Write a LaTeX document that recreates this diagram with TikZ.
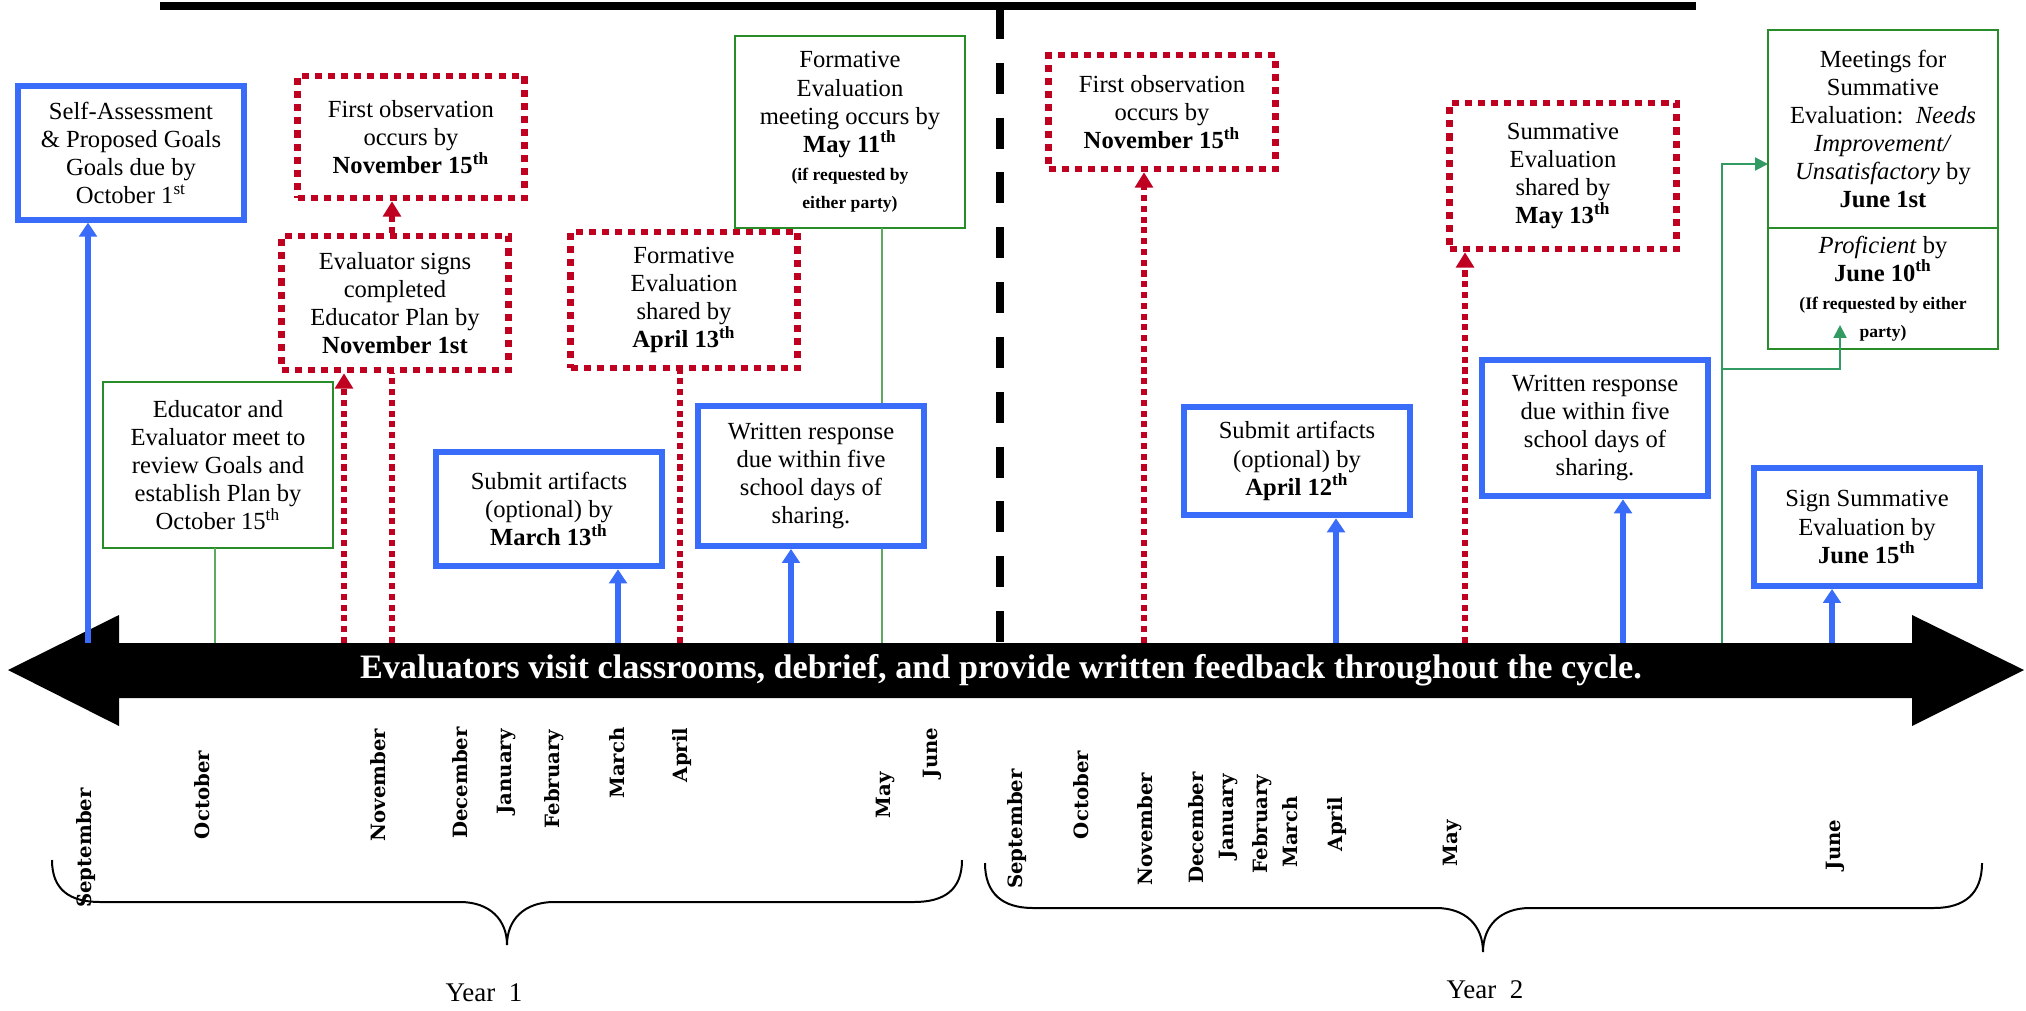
\documentclass[tikz,border=0pt]{standalone}
\usepackage{fontspec}
\setmainfont{Liberation Serif}
\newfontfamily\monthfont{DejaVu Serif}
\usetikzlibrary{arrows.meta}
\usetikzlibrary{positioning}

\definecolor{planblue}{RGB}{58,108,250}
\definecolor{planred}{RGB}{192,0,32}
\definecolor{plangreen}{RGB}{40,140,40}
\definecolor{meetgreen}{RGB}{50,155,100}

\newcommand{\reqnote}[1]{{\fontsize{7.5}{8.5}\selectfont\bfseries #1}}

\tikzstyle{bluebox} = [rectangle, minimum width=34mm, text centered, align=center, draw=planblue, line width=2.5pt, fill=white, font=\fontsize{10.5}{12}\selectfont]
\tikzstyle{redbox} = [rectangle, minimum width=34mm, text centered, align=center, draw=planred, line width=2.8pt, dash pattern=on 3pt off 2.6pt, fill=white, font=\fontsize{10.5}{12}\selectfont]
\tikzstyle{greenbox} = [rectangle, minimum width=34.5mm, text centered, align=center, draw=plangreen, line width=0.9pt, fill=white, outer sep=0pt, font=\fontsize{10.5}{12}\selectfont]
\tikzstyle{month} = [rotate=90, inner sep=0pt, font=\monthfont\bfseries\fontsize{8.4}{10}\selectfont]
\tikzstyle{yearlabel} = [font=\fontsize{11.5}{13}\selectfont]
\tikzstyle{bluearrow} = [color=planblue, line width=2.5pt, -{Triangle[width=7.5pt,length=6pt]}]
\tikzstyle{redarrow} = [color=planred, line width=2.4pt, dash pattern=on 2.6pt off 2pt, -{Triangle[width=7.5pt,length=6.5pt]}]
\tikzstyle{redline} = [color=planred, line width=2.4pt, dash pattern=on 2.6pt off 2pt]
\tikzstyle{greenline} = [color=plangreen!75!white, line width=0.7pt]
\tikzstyle{greenarrow} = [color=meetgreen, line width=0.9pt, -{Triangle[width=5.5pt,length=5.5pt]}]

\begin{document}
\begin{tikzpicture}[x=0.015cm, y=-0.015cm]
    \useasboundingbox (0,0) rectangle (2026,1010);

    % top rule and year divider
    \draw [line width=3pt] (160,6) -- (1696,6);
    \draw [line width=3.4pt, dash pattern=on 13.2pt off 10.2pt] (1000,8) -- (1000,643);

    % timeline
    \fill (8,670) -- (119,615) -- (119,643) -- (1912,643) -- (1912,615) -- (2024,670) -- (1912,726) -- (1912,698) -- (119,698) -- (119,726) -- cycle;
    \node (bar) [text=white, font=\fontsize{14.6}{17}\selectfont\bfseries] at (1001,670) {Evaluators visit classrooms, debrief, and provide written feedback throughout the cycle.};

    % year 1
    \node (selfAssess) [bluebox, minimum width=33.9mm, minimum height=20mm] at (131,153) {Self-Assessment\\\& Proposed Goals\\Goals due by\\October 1\textsuperscript{st}};
    \node (firstObsA) [redbox, minimum height=18.3mm] at (411,137) {First observation\\occurs by\\\textbf{November 15\textsuperscript{th}}};
    \node (signPlan) [redbox, minimum height=20.1mm] at (395,303) {Evaluator signs\\completed\\Educator Plan by\\\textbf{November 1st}};
    \node (formShared) [redbox, minimum height=20.4mm] at (684,300) {Formative\\Evaluation\\shared by\\\textbf{April 13\textsuperscript{th}}};
    \node (formMeet) [greenbox, minimum height=28.8mm] at (850,132) {Formative\\Evaluation\\meeting occurs by\\\textbf{May 11\textsuperscript{th}}\\\reqnote{(if requested by}\\\reqnote{either party)}};
    \node (planMeet) [greenbox, minimum height=25mm] at (218,465) {Educator and\\Evaluator meet to\\review Goals and\\establish Plan by\\October 15\textsuperscript{th}};
    \node (artifactsA) [bluebox, minimum height=17.2mm] at (549,509) {Submit artifacts\\(optional) by\\\textbf{March 13\textsuperscript{th}}};
    \node (responseA) [bluebox, minimum height=21mm] at (811,476) {Written response\\due within five\\school days of\\sharing.};

    % year 2
    \node (firstObsB) [redbox, minimum height=17.1mm] at (1162,112) {First observation\\occurs by\\\textbf{November 15\textsuperscript{th}}};
    \node (sumShared) [redbox, minimum height=21.9mm] at (1563,176) {Summative\\Evaluation\\shared by\\\textbf{May 13\textsuperscript{th}}};
    \node (sumMeet) [greenbox, minimum height=29.7mm] at (1883,129) {Meetings for\\Summative\\Evaluation:\ \ \textit{Needs}\\\textit{Improvement/}\\\textit{Unsatisfactory} by\\\textbf{June 1st}};
    \node (profMeet) [greenbox, minimum height=17.85mm, below=0pt of sumMeet] {\textit{Proficient} by\\\textbf{June 10\textsuperscript{th}}\\\reqnote{(If requested by either}\\\reqnote{party)}};
    \node (artifactsB) [bluebox, minimum height=16.3mm] at (1297,461) {Submit artifacts\\(optional) by\\\textbf{April 12\textsuperscript{th}}};
    \node (responseB) [bluebox, minimum height=20.5mm] at (1595,428) {Written response\\due within five\\school days of\\sharing.};
    \node (signSum) [bluebox, minimum height=17.7mm] at (1867,527) {Sign Summative\\Evaluation by\\\textbf{June 15\textsuperscript{th}}};

    % where the connectors leave the timeline
    \coordinate (tSelf) at (88,643);
    \coordinate (tPlan) at (215,643);
    \coordinate (tSign) at (344,643);
    \coordinate (tObsA) at (392,643);
    \coordinate (tArtA) at (618,643);
    \coordinate (tShared) at (680,643);
    \coordinate (tRespA) at (791,643);
    \coordinate (tMeetA) at (882,643);
    \coordinate (tObsB) at (1144,643);
    \coordinate (tArtB) at (1336,643);
    \coordinate (tSum) at (1465,643);
    \coordinate (tRespB) at (1623,643);
    \coordinate (tMeetB) at (1722,643);
    \coordinate (tSignSum) at (1832,643);
    \coordinate (profTip) at (1840,325);

    \draw [bluearrow] (tSelf) -- (tSelf |- selfAssess.south);
    \draw [greenline] (tPlan) -- (tPlan |- planMeet.south);
    \draw [redarrow] (tSign) -- (tSign |- signPlan.south);
    \draw [redline] (tObsA) -- (tObsA |- signPlan.south);
    \draw [redarrow] (tObsA |- signPlan.north) -- (tObsA |- firstObsA.south);
    \draw [bluearrow] (tArtA) -- (tArtA |- artifactsA.south);
    \draw [redline] (tShared) -- (tShared |- formShared.south);
    \draw [bluearrow] (tRespA) -- (tRespA |- responseA.south);
    \draw [greenline] (tMeetA) -- (tMeetA |- responseA.south);
    \draw [greenline] (tMeetA |- responseA.north) -- (tMeetA |- formMeet.south);

    \draw [redarrow] (tObsB) -- (tObsB |- firstObsB.south);
    \draw [bluearrow] (tArtB) -- (tArtB |- artifactsB.south);
    \draw [redarrow] (tSum) -- (tSum |- sumShared.south);
    \draw [bluearrow] (tRespB) -- (tRespB |- responseB.south);
    \draw [greenarrow] (tMeetB) |- (sumMeet.west |- 0,164);
    \draw [greenarrow] (tMeetB |- 0,369) -| (profTip);
    \draw [bluearrow] (tSignSum) -- (tSignSum |- signSum.south);

    % months, year 1
    \node (sepA) [month] at (86,848) {September};
    \node (octA) [month] at (202,795) {October};
    \node (novA) [month] at (378,785) {November};
    \node (decA) [month] at (460,783) {December};
    \node (janA) [month] at (507,772) {January};
    \node (febA) [month] at (554,779) {February};
    \node (marA) [month] at (617,763) {March};
    \node (aprA) [month] at (682,755) {April};
    \node (mayA) [month] at (885,795) {May};
    \node (junA) [month] at (932,753) {June};

    % months, year 2
    \node (sepB) [month] at (1017,829) {September};
    \node (octB) [month] at (1081,795) {October};
    \node (novB) [month] at (1145,829) {November};
    \node (decB) [month] at (1196,828) {December};
    \node (janB) [month] at (1228,817) {January};
    \node (febB) [month] at (1262,824) {February};
    \node (marB) [month] at (1290,832) {March};
    \node (aprB) [month] at (1337,824) {April};
    \node (mayB) [month] at (1452,843) {May};
    \node (junB) [month] at (1835,845) {June};

    % braces
    \draw [line width=0.85pt] (52,860) .. controls (52,890) and (70,902) .. (100,902) -- (460,902) .. controls (490,902) and (507,920) .. (507,945) .. controls (507,920) and (524,902) .. (554,902) -- (914,902) .. controls (944,902) and (962,890) .. (962,860);
    \draw [line width=0.85pt] (985,863) .. controls (985,894) and (1003,908) .. (1033,908) -- (1436,908) .. controls (1466,908) and (1483,926) .. (1483,952) .. controls (1483,926) and (1500,908) .. (1530,908) -- (1934,908) .. controls (1964,908) and (1982,894) .. (1982,863);

    \node (yearA) [yearlabel] at (484,993) {Year\ \ 1};
    \node (yearB) [yearlabel] at (1485,990) {Year\ \ 2};
\end{tikzpicture}
\end{document}
